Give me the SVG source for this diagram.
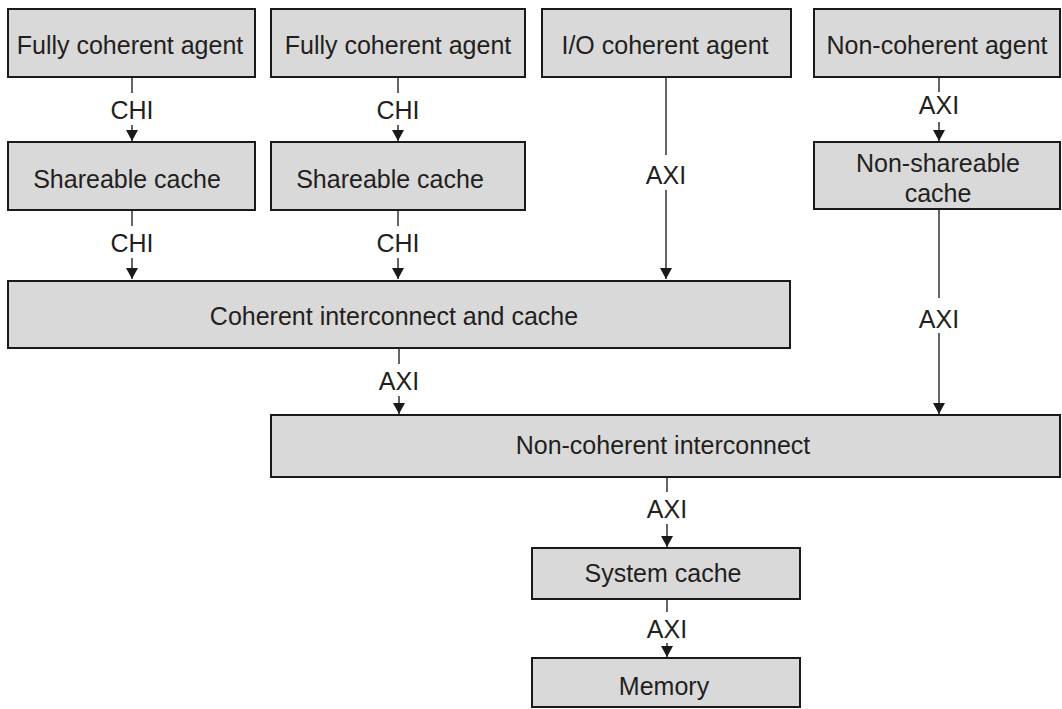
<svg xmlns="http://www.w3.org/2000/svg" width="1062" height="709" viewBox="0 0 1062 709">
<defs>
<style>
.box{fill:#d9d9d9;stroke:#1a1a1a;stroke-width:2}
.t{font-family:"Liberation Sans",Arial,sans-serif;font-size:25px;fill:#231f20;text-anchor:middle}
.c{fill:none;stroke:#333;stroke-width:1.5}
</style>
<marker id="ah" markerUnits="userSpaceOnUse" markerWidth="12" markerHeight="12" refX="11" refY="6" orient="auto">
<path d="M0,0 L11,6 L0,12 z" fill="#1a1a1a"/>
</marker>
</defs>
<rect width="1062" height="709" fill="#fff"/>
<g id="connectors">
<path class="c" d="M132 77 V93 M132 125 V141" marker-end="url(#ah)"/>
<text class="t" x="132" y="119">CHI</text>
<path class="c" d="M398 77 V93 M398 125 V141" marker-end="url(#ah)"/>
<text class="t" x="398" y="119">CHI</text>
<path class="c" d="M132 210 V226 M132 258 V279" marker-end="url(#ah)"/>
<text class="t" x="132" y="252">CHI</text>
<path class="c" d="M398 210 V226 M398 258 V279" marker-end="url(#ah)"/>
<text class="t" x="398" y="252">CHI</text>
<path class="c" d="M666 77 V155 M666 190 V279" marker-end="url(#ah)"/>
<text class="t" x="666" y="184">AXI</text>
<path class="c" d="M939 77 V92 M939 122 V141" marker-end="url(#ah)"/>
<text class="t" x="939" y="114">AXI</text>
<path class="c" d="M939 209 V298 M939 333 V414" marker-end="url(#ah)"/>
<text class="t" x="939" y="328">AXI</text>
<path class="c" d="M399 348 V364 M399 396 V414" marker-end="url(#ah)"/>
<text class="t" x="399" y="390">AXI</text>
<path class="c" d="M667 477 V492 M667 524 V547" marker-end="url(#ah)"/>
<text class="t" x="667" y="518">AXI</text>
<path class="c" d="M667 599 V612 M667 643 V657" marker-end="url(#ah)"/>
<text class="t" x="667" y="638">AXI</text>
</g>
<g id="fca1"><rect class="box" x="8" y="9" width="247" height="68"/><text class="t" x="130" y="54">Fully coherent agent</text></g>
<g id="fca2"><rect class="box" x="271" y="9" width="254" height="68"/><text class="t" x="398" y="54">Fully coherent agent</text></g>
<g id="ioca"><rect class="box" x="542" y="9" width="249" height="68"/><text class="t" x="665" y="54">I/O coherent agent</text></g>
<g id="nca"><rect class="box" x="814" y="9" width="246" height="68"/><text class="t" x="937" y="54">Non-coherent agent</text></g>
<g id="sc1"><rect class="box" x="8" y="142" width="247" height="68"/><text class="t" x="127" y="188">Shareable cache</text></g>
<g id="sc2"><rect class="box" x="271" y="142" width="254" height="68"/><text class="t" x="390" y="188">Shareable cache</text></g>
<g id="nsc"><rect class="box" x="814" y="142" width="246" height="67"/><text class="t" x="938" y="172">Non-shareable</text><text class="t" x="938" y="202">cache</text></g>
<g id="cic"><rect class="box" x="8" y="281" width="782" height="67"/><text class="t" x="394" y="325">Coherent interconnect and cache</text></g>
<g id="nci"><rect class="box" x="271" y="415" width="789" height="62"/><text class="t" x="663" y="454">Non-coherent interconnect</text></g>
<g id="sysc"><rect class="box" x="532" y="548" width="268" height="51"/><text class="t" x="663" y="582">System cache</text></g>
<g id="mem"><rect class="box" x="532" y="658" width="268" height="49"/><text class="t" x="664" y="695">Memory</text></g>
</svg>
